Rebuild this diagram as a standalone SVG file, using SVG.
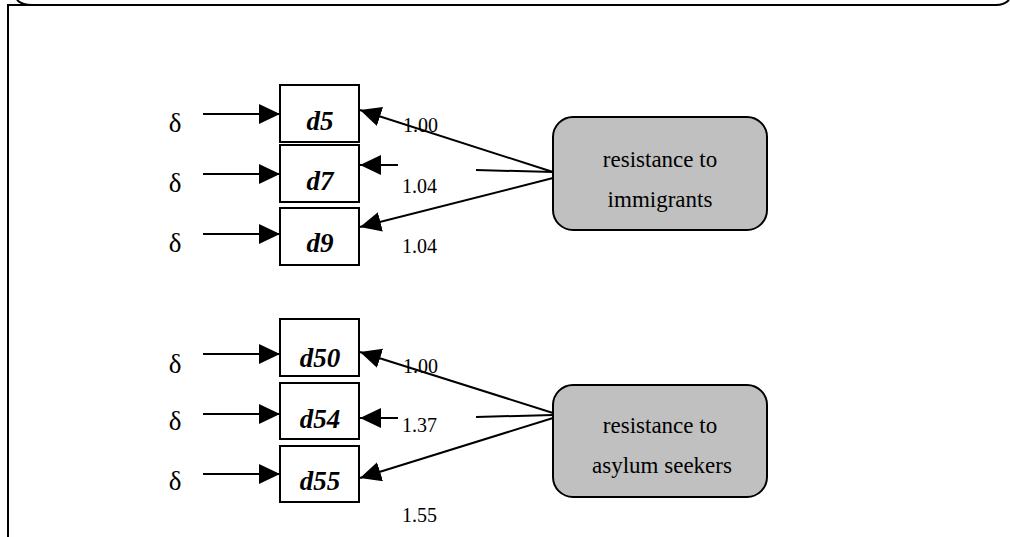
<svg xmlns="http://www.w3.org/2000/svg" width="1010" height="537" viewBox="0 0 1010 537">
<style>
text{font-family:"Liberation Serif","Times New Roman",serif;fill:#000}
.box{fill:#fff;stroke:#000;stroke-width:2}
.lat{fill:#c0c0c0;stroke:#000;stroke-width:2}
.v{font-size:27px;font-weight:bold;font-style:italic;text-anchor:middle}
.d{font-size:27px;text-anchor:middle}
.n{font-size:20px}
.t{font-size:23px;text-anchor:middle}
.c{stroke:#000;stroke-width:2;fill:none}
.a{marker-end:url(#ah)}
</style>
<defs>
<marker id="ah" markerUnits="userSpaceOnUse" markerWidth="24" markerHeight="22" refX="21" refY="10" orient="auto">
<path d="M0,0 L21,10 L0,20 Z" fill="#000"/>
</marker>
</defs>
<rect width="1010" height="537" fill="#fff"/>
<g id="frame">
<path class="c" d="M17,0 Q22,5 32,5 L996,5 Q1004,5 1009,0"/>
<path class="c" d="M8,537 L8,5 L32,5"/>
</g>
<g id="connectors">
<line class="c a" x1="203" y1="114" x2="280" y2="114"/>
<line class="c a" x1="203" y1="174" x2="280" y2="174"/>
<line class="c a" x1="203" y1="234" x2="280" y2="234"/>
<line class="c a" x1="203" y1="354" x2="280" y2="354"/>
<line class="c a" x1="203" y1="414" x2="280" y2="414"/>
<line class="c a" x1="203" y1="474" x2="280" y2="474"/>
<line class="c a" x1="553" y1="172" x2="360" y2="110"/>
<line class="c" x1="476" y1="170" x2="553" y2="172"/>
<line class="c a" x1="398" y1="165" x2="360" y2="165"/>
<line class="c a" x1="553" y1="178" x2="360" y2="227"/>
<line class="c a" x1="553" y1="413" x2="360" y2="352"/>
<line class="c" x1="476" y1="417" x2="553" y2="415"/>
<line class="c a" x1="398" y1="418" x2="360" y2="418"/>
<line class="c a" x1="553" y1="418" x2="360" y2="478"/>
</g>
<g id="delta">
<text class="d" x="175" y="132">δ</text>
<text class="d" x="175" y="192">δ</text>
<text class="d" x="175" y="252">δ</text>
<text class="d" x="175" y="373">δ</text>
<text class="d" x="175" y="430">δ</text>
<text class="d" x="175" y="490">δ</text>
</g>
<g id="d5"><rect class="box" x="280" y="85" width="79" height="57"/><text class="v" x="320" y="130">d5</text></g>
<g id="d7"><rect class="box" x="280" y="145" width="79" height="57"/><text class="v" x="320" y="190">d7</text></g>
<g id="d9"><rect class="box" x="280" y="208" width="79" height="57"/><text class="v" x="320" y="252">d9</text></g>
<g id="d50"><rect class="box" x="280" y="319" width="79" height="57"/><text class="v" x="320" y="367">d50</text></g>
<g id="d54"><rect class="box" x="280" y="383" width="79" height="56"/><text class="v" x="320" y="428">d54</text></g>
<g id="d55"><rect class="box" x="280" y="446" width="79" height="56"/><text class="v" x="320" y="490">d55</text></g>
<g id="immigrants"><rect class="lat" x="553" y="117" width="214" height="113" rx="20" ry="20"/><text class="t" x="660" y="167">resistance to</text><text class="t" x="660" y="207">immigrants</text></g>
<g id="asylum"><rect class="lat" x="553" y="385" width="214" height="112" rx="20" ry="20"/><text class="t" x="660" y="433">resistance to</text><text class="t" x="662" y="473">asylum seekers</text></g>
<g id="labels">
<text class="n" x="403" y="132">1.00</text>
<text class="n" x="402" y="193">1.04</text>
<text class="n" x="402" y="253">1.04</text>
<text class="n" x="403" y="373">1.00</text>
<text class="n" x="402" y="432">1.37</text>
<text class="n" x="402" y="522">1.55</text>
</g>
</svg>
